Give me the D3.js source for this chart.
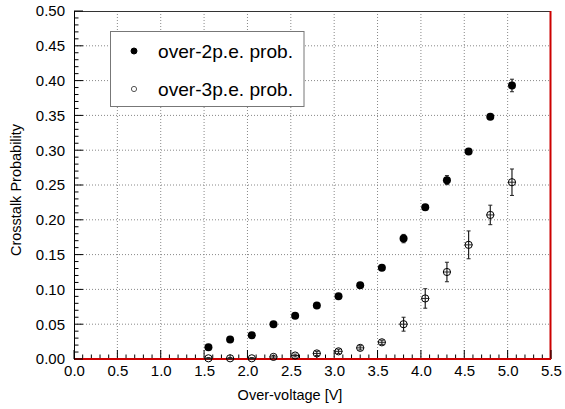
<!DOCTYPE html>
<html><head><meta charset="utf-8">
<script src="https://cdn.jsdelivr.net/npm/d3@7"></script>
<style>body{margin:0;background:#fff}svg{display:block}text{font-family:"Liberation Sans",Arial,Helvetica,sans-serif}</style>
</head><body><svg id="c" width="565" height="409"></svg>
<script>
const voltages = [1.55,1.80,2.05,2.30,2.55,2.80,3.05,3.30,3.55,3.80,4.05,4.30,4.55,4.80,5.05];
const prob2 = [0.017,0.028,0.034,0.050,0.062,0.077,0.090,0.106,0.131,0.173,0.218,0.257,0.298,0.348,0.393];
const err2  = [0.002,0.002,0.002,0.002,0.002,0.002,0.002,0.002,0.002,0.006,0.004,0.0065,0.003,0.003,0.009];
const prob3 = [0.001,0.001,0.001,0.003,0.005,0.008,0.011,0.016,0.024,0.050,0.087,0.125,0.164,0.207,0.254];
const err3  = [0.001,0.001,0.001,0.002,0.002,0.003,0.003,0.003,0.003,0.010,0.014,0.014,0.020,0.014,0.019];
const xTicks = [0,0.5,1,1.5,2,2.5,3,3.5,4,4.5,5,5.5];
const yTicks = [0,0.05,0.1,0.15,0.2,0.25,0.3,0.35,0.4,0.45,0.5];
const legendLabels = ["over-2p.e. prob.","over-3p.e. prob."];

const L=74,R=551,T=11,B=359;
const svg=d3.select("#c");
const x=d3.scaleLinear().domain([0,5.5]).range([L,R]);
const y=d3.scaleLinear().domain([0,0.5]).range([B,T]);

// grid
const g=svg.append("g");
g.selectAll(".gx").data(xTicks.slice(1,-1)).enter().append("line")
 .attr("x1",d=>x(d)).attr("x2",d=>x(d)).attr("y1",T).attr("y2",B)
 .attr("stroke","#888").attr("stroke-width",1).attr("stroke-dasharray","1,2");
g.selectAll(".gy").data(yTicks.slice(1,-1)).enter().append("line")
 .attr("y1",d=>y(d)).attr("y2",d=>y(d)).attr("x1",L).attr("x2",R)
 .attr("stroke","#888").attr("stroke-width",1).attr("stroke-dasharray","1,2");

// frame
svg.append("line").attr("x1",L).attr("x2",R).attr("y1",T+0.5).attr("y2",T+0.5).attr("stroke","#333");
svg.append("line").attr("x1",R-0.5).attr("x2",R-0.5).attr("y1",T).attr("y2",B).attr("stroke","#c00").attr("stroke-width",2);

// axes
const xMinor=d3.range(0,5.5001,0.1);
const yMinor=d3.range(0,0.5001,0.01);
const xa=svg.append("g").attr("transform",`translate(0,${B})`);
xa.call(d3.axisBottom(x).tickValues(xTicks).tickFormat(d3.format(".1f")).tickSize(0).tickPadding(6));
xa.select(".domain").remove();
xa.selectAll("text").attr("font-size",15).attr("fill","#000");
xa.selectAll(".mt").data(xMinor).enter().append("line")
 .attr("x1",d=>x(d)).attr("x2",d=>x(d)).attr("y1",0)
 .attr("y2",(d,i)=> i%5===0 ? -9 : -4.5).attr("stroke","#000");
xa.append("line").attr("x1",L).attr("x2",R).attr("y1",0).attr("y2",0).attr("stroke","#c00").attr("stroke-width",2);

const ya=svg.append("g").attr("transform",`translate(${L},0)`);
ya.call(d3.axisLeft(y).tickValues(yTicks).tickFormat(d3.format(".2f")).tickSize(0).tickPadding(9));
ya.select(".domain").remove();
ya.selectAll("text").attr("font-size",15).attr("fill","#000");
ya.selectAll(".mt").data(yMinor).enter().append("line")
 .attr("y1",d=>y(d)).attr("y2",d=>y(d)).attr("x1",0)
 .attr("x2",(d,i)=> i%5===0 ? 9 : 4.5).attr("stroke","#000");
ya.append("line").attr("x1",0.5).attr("x2",0.5).attr("y1",T).attr("y2",B).attr("stroke","#000");

// axis titles
svg.append("text").attr("x",290).attr("y",400).attr("text-anchor","middle")
 .attr("font-size",14.5).text("Over-voltage [V]");
svg.append("text").attr("transform",`translate(21,190) rotate(-90)`).attr("text-anchor","middle")
 .attr("font-size",14.5).text("Crosstalk Probability");

// data
function series(vals,errs,filled){
  const s=svg.append("g");
  s.selectAll(".e").data(voltages).enter().append("line")
   .attr("x1",d=>x(d)).attr("x2",d=>x(d))
   .attr("y1",(d,i)=>y(vals[i]-errs[i])).attr("y2",(d,i)=>y(vals[i]+errs[i]))
   .attr("stroke","#222").attr("stroke-width",1.2);
  s.selectAll(".c").data(voltages).enter().append("line")
   .attr("x1",d=>x(d)-2).attr("x2",d=>x(d)+2)
   .attr("y1",(d,i)=>y(vals[i]-errs[i])).attr("y2",(d,i)=>y(vals[i]-errs[i]))
   .attr("stroke","#222");
  s.selectAll(".c2").data(voltages).enter().append("line")
   .attr("x1",d=>x(d)-2).attr("x2",d=>x(d)+2)
   .attr("y1",(d,i)=>y(vals[i]+errs[i])).attr("y2",(d,i)=>y(vals[i]+errs[i]))
   .attr("stroke","#222");
  if(!filled){
    s.selectAll(".h").data(voltages).enter().append("line")
     .attr("x1",d=>x(d)-4).attr("x2",d=>x(d)+4)
     .attr("y1",(d,i)=>y(vals[i])).attr("y2",(d,i)=>y(vals[i]))
     .attr("stroke","#222");
  }
  s.selectAll(".p").data(voltages).enter().append("circle")
   .attr("cx",d=>x(d)).attr("cy",(d,i)=>y(vals[i])).attr("r",filled?4:3.6)
   .attr("fill",filled?"#000":"none").attr("stroke","#000").attr("stroke-width",filled?0:1);
}
series(prob3,err3,false);
series(prob2,err2,true);

// legend
const lg=svg.append("g");
lg.append("rect").attr("x",110.5).attr("y",31.5).attr("width",193.5).attr("height",75)
 .attr("fill","#fff").attr("stroke","#777").attr("stroke-width",1);
lg.selectAll("circle").data(legendLabels).enter().append("circle")
 .attr("cx",134).attr("cy",(d,i)=>51+i*38).attr("r",(d,i)=>i?2.6:3)
 .attr("fill",(d,i)=>i?"#fff":"#000").attr("stroke",(d,i)=>i?"#555":"#000");
lg.selectAll("text").data(legendLabels).enter().append("text")
 .attr("x",158).attr("y",(d,i)=>57.5+i*38).attr("font-size",19).attr("textLength",135)
 .attr("lengthAdjust","spacingAndGlyphs").text(d=>d);
</script></body></html>
